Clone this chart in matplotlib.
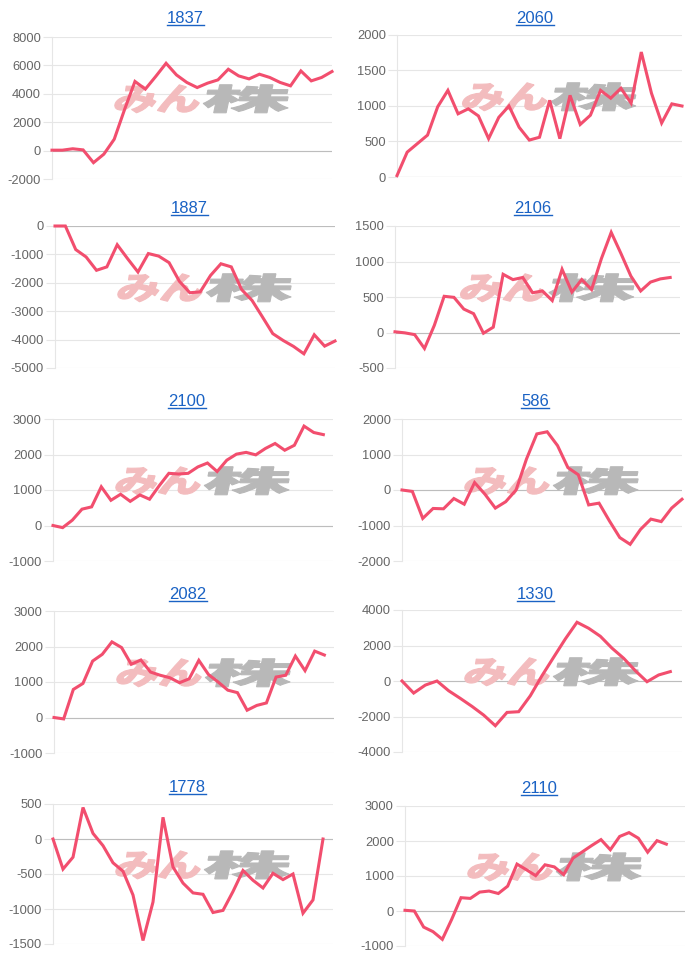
import numpy as np
import matplotlib
matplotlib.use('Agg')
import matplotlib.pyplot as plt
from matplotlib.textpath import TextPath
from matplotlib.patches import PathPatch
from matplotlib.font_manager import FontProperties
from matplotlib.transforms import Affine2D
from matplotlib.lines import Line2D

plt.rcParams['font.family'] = ['Liberation Sans', 'DejaVu Sans']

# ── Data ──
codes = ['1837', '2060', '1887', '2106', '2100', '586', '2082', '1330', '1778', '2110']

v1837 = [30, 30, 130, 50, -850, -250, 800, 2900, 4870, 4330, 5220, 6150, 5330, 4800,
         4440, 4750, 4980, 5730, 5260, 5050, 5380, 5150, 4800, 4560, 5610, 4910, 5150, 5570]
v2060 = [20, 350, 470, 590, 990, 1220, 890, 960, 860, 540, 840, 1000, 700, 520, 560,
         1080, 540, 1150, 740, 870, 1220, 1110, 1250, 1040, 1760, 1180, 760, 1030, 1000]
v1887 = [0, 0, -830, -1090, -1560, -1440, -660, -1150, -1620, -970, -1060, -1290, -1950,
         -2350, -2320, -1740, -1330, -1440, -2240, -2620, -3200, -3790, -4030, -4240,
         -4500, -3830, -4230, -4050]
v2106 = [10, -5, -30, -225, 100, 510, 495, 330, 265, -10, 75, 820, 745, 775, 560, 585,
         450, 890, 570, 745, 605, 1040, 1410, 1110, 795, 585, 710, 755, 775]
v2100 = [0, -60, 150, 460, 525, 1090, 710, 880, 680, 860, 740, 1120, 1470, 1450, 1470,
         1650, 1760, 1520, 1840, 2010, 2060, 1990, 2170, 2310, 2120, 2260, 2800, 2620, 2560]
v586 = [0, -40, -800, -520, -530, -240, -400, 210, -120, -510, -330, 0, 870, 1580, 1640,
        1250, 630, 430, -420, -370, -870, -1340, -1530, -1110, -820, -890, -510, -260]
v2082 = [0, -40, 790, 960, 1590, 1780, 2130, 1970, 1500, 1620, 1280, 1190, 1120, 980, 1090,
         1610, 1210, 1000, 770, 700, 205, 340, 410, 1140, 1190, 1730, 1320, 1870, 1760]
v1330 = [0, -680, -230, 0, -550, -980, -1430, -1920, -2520, -1770, -1730, -830, 300, 1340,
         2370, 3310, 2970, 2520, 1850, 1280, 580, -40, 340, 530]
v1778 = [0, -430, -260, 450, 80, -95, -340, -460, -800, -1450, -900, 310, -400, -630, -770,
         -790, -1050, -1020, -750, -450, -590, -700, -490, -580, -500, -1060, -870, 0]
v2110 = [20, 0, -460, -590, -810, -240, 380, 360, 540, 570, 500, 710, 1340, 1180, 1010,
         1320, 1260, 1040, 1510, 1690, 1870, 2040, 1750, 2130, 2240, 2080, 1680, 2010, 1910]

series = [v1837, v2060, v1887, v2106, v2100, v586, v2082, v1330, v1778, v2110]
n_days = [28, 29, 28, 30, 30, 28, 30, 25, 29, 31]          # category slots on x axis
y_lo = [-2000, 0, -5000, -500, -1000, -2000, -1000, -4000, -1500, -1000]
y_hi = [8000, 2000, 0, 1500, 3000, 2000, 3000, 4000, 500, 3000]
y_step = [2000, 500, 1000, 500, 1000, 1000, 1000, 2000, 500, 1000]

# ── Layout (image pixels: left, top, right, bottom of plot area) ──
W, H = 700, 958
boxes = [(52, 37, 332, 179), (397, 35, 682, 177),
         (55, 226, 335, 368), (395, 226, 680, 368),
         (53, 419, 333, 561), (402, 419, 682, 561),
         (54, 611, 334, 753), (402, 610, 682, 752),
         (53, 804, 333, 944), (405, 806, 685, 946)]
title_xy = [(185, 23), (535, 23), (189, 213), (533, 213), (187, 406),
            (535, 406), (188, 599), (535, 599), (187, 792), (539, 793)]

LINE = '#f24e6e'
GRID = '#e6e6e6'
ZERO = '#bdbdbd'
LINK = '#1a62c4'
TICK = '#666666'

fig = plt.figure(figsize=(W / 100, H / 100), dpi=100)
fp_wm = FontProperties(family='Noto Sans CJK JP', weight=900)


def watermark(ax):
    # stylised "みん株" logo behind the line
    bb = ax.get_window_extent()
    cx = bb.x0 + 0.54 * bb.width
    cy = bb.y0 + 0.565 * bb.height
    h = 28
    parts = [('みん', 84, '#f3bcbe'), ('株', 86, '#b8b8b8')]
    x = cx - (84 + 4 + 86) / 2 - 3
    for txt, w, col in parts:
        tp = TextPath((0, 0), txt, size=10, prop=fp_wm)
        e = tp.get_extents()
        tr = (Affine2D().translate(-e.x0, -e.y0)
              .scale(w / e.width, h / e.height)
              .skew_deg(12, 0)
              .translate(x, cy - h / 2))
        ax.add_patch(PathPatch(tp, transform=tr, facecolor=col, edgecolor=col,
                               linewidth=0.8, zorder=1, clip_on=False))
        x += w + 4


axes = []
for i, vals in enumerate(series):
    l, t, r, b = boxes[i]
    ax = fig.add_axes([l / W, 1 - b / H, (r - l) / W, (b - t) / H])
    axes.append(ax)
    ax.set_xlim(0, n_days[i] - 1)
    ax.set_ylim(y_lo[i], y_hi[i])
    ticks = np.arange(y_lo[i], y_hi[i] + y_step[i], y_step[i])
    ax.set_yticks(ticks)
    ax.set_yticklabels([str(int(v)) for v in ticks])
    ax.set_xticks([])
    ax.set_axisbelow(True)
    ax.grid(axis='y', color=GRID, linewidth=0.8)
    ax.axhline(0, color=ZERO, linewidth=0.8, zorder=0.6)
    for s in ['top', 'right', 'bottom']:
        ax.spines[s].set_visible(False)
    ax.spines['left'].set_color(GRID)
    ax.spines['left'].set_linewidth(0.8)
    ax.tick_params(axis='y', length=6.5, width=0.8, color=GRID, pad=1.5,
                   labelsize=9.3, labelcolor=TICK)
    ax.patch.set_alpha(0)

    watermark(ax)
    ax.plot(range(len(vals)), vals, color=LINE, linewidth=2.2,
            solid_joinstyle='miter', zorder=3, clip_on=False)

    tx, ty = title_xy[i]
    fig.text(tx / W, 1 - ty / H, codes[i], ha='center', va='baseline',
             fontsize=12, color=LINK)

# underline titles like links
fig.canvas.draw()
renderer = fig.canvas.get_renderer()
for txt in list(fig.texts):
    bb = txt.get_window_extent(renderer)
    ybase = txt.get_position()[1] * H - 2
    fig.add_artist(Line2D([bb.x0 / W, bb.x1 / W], [ybase / H, ybase / H],
                          transform=fig.transFigure, color=LINK, linewidth=1.0))

fig.savefig('out.png', dpi=100)
